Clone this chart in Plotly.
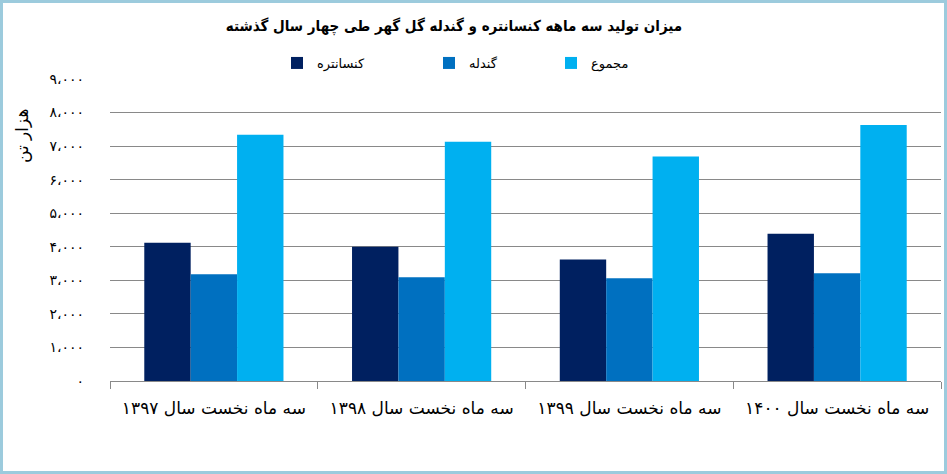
import plotly.graph_objects as go

categories = ["سه ماه نخست سال ۱۳۹۷", "سه ماه نخست سال ۱۳۹۸",
              "سه ماه نخست سال ۱۳۹۹", "سه ماه نخست سال ۱۴۰۰"]
concentrate = [4120, 4000, 3620, 4390]
pellet = [3180, 3090, 3060, 3210]
total = [7335, 7130, 6690, 7630]
series_names = ["کنسانتره", "گندله", "مجموع"]
series_colors = ["#002060", "#0070C0", "#00B0F0"]
y_tickvals = [0, 1000, 2000, 3000, 4000, 5000, 6000, 7000, 8000, 9000]
y_ticktext = ["۰", "۱،۰۰۰", "۲،۰۰۰", "۳،۰۰۰", "۴،۰۰۰", "۵،۰۰۰",
              "۶،۰۰۰", "۷،۰۰۰", "۸،۰۰۰", "۹،۰۰۰"]
title_text = "میزان تولید سه ماهه کنسانتره و گندله گل گهر طی چهار سال گذشته"
y_title = "هزار تن"

W, H = 947, 474
L, R, T, B = 110, 6, 79, 93
pw, ph = W - L - R, H - T - B

legend_x_px = [277, 429, 551]
legend_keys = ["legend", "legend2", "legend3"]

fig = go.Figure()
for name, vals, col, lk in zip(series_names, [concentrate, pellet, total],
                               series_colors, legend_keys):
    fig.add_trace(go.Bar(x=categories, y=vals, name=name, marker_color=col,
                         marker_line_width=0, legend=lk))

font_fam = "DejaVu Sans, Noto Sans, sans-serif"
layout_legends = {}
for lk, xp in zip(legend_keys, legend_x_px):
    layout_legends[lk] = dict(orientation="h", x=(xp - L) / pw, xanchor="left",
                              y=(H - B - 63) / ph, yanchor="middle",
                              font=dict(size=13), itemwidth=30,
                              bgcolor="rgba(0,0,0,0)")
fig.update_layout(
    width=W, height=H,
    margin=dict(l=L, r=R, t=T, b=B, pad=0),
    paper_bgcolor="white", plot_bgcolor="white",
    barmode="group", bargap=0.33, bargroupgap=0,
    font=dict(family=font_fam, color="black"),
    title=dict(text="<b>" + title_text + "</b>", x=454 / W, xanchor="center",
               y=1 - 26 / H, yanchor="middle",
               font=dict(size=15, color="black",
                         family="DejaVu Sans Condensed, DejaVu Sans, sans-serif")),
    showlegend=True,
    **layout_legends,
)
fig.update_xaxes(showline=True, linecolor="#898989", linewidth=1,
                 ticks="outside", tickson="boundaries", ticklen=7, tickcolor="#898989",
                 ticklabelstandoff=12,
                 tickfont=dict(size=17, color="black"), showgrid=False)
fig.update_yaxes(range=[0, 9000], tickvals=y_tickvals, ticktext=y_ticktext,
                 showgrid=True, gridcolor="#898989", gridwidth=1,
                 zeroline=False, showline=False, ticks="",
                 ticklabelstandoff=25,
                 tickfont=dict(size=14, color="black"))
fig.add_annotation(text=y_title, textangle=-90, xref="paper", yref="paper",
                   x=(22 - L) / pw, y=(H - B - 136) / ph, showarrow=False,
                   xanchor="center", yanchor="middle",
                   font=dict(size=17, color="black"))
# chart border
fig.add_shape(type="rect", xref="paper", yref="paper",
              x0=(1.5 - L) / pw, x1=(W - 1.5 - L) / pw,
              y0=(H - B - (H - 1.5)) / ph, y1=(H - B - 1.5) / ph,
              line=dict(color="#9CCBDD", width=3), layer="above")
fig.write_html("out.html", config={"displayModeBar": False},
               post_script="document.body.style.margin='0';document.body.style.overflow='hidden';")
